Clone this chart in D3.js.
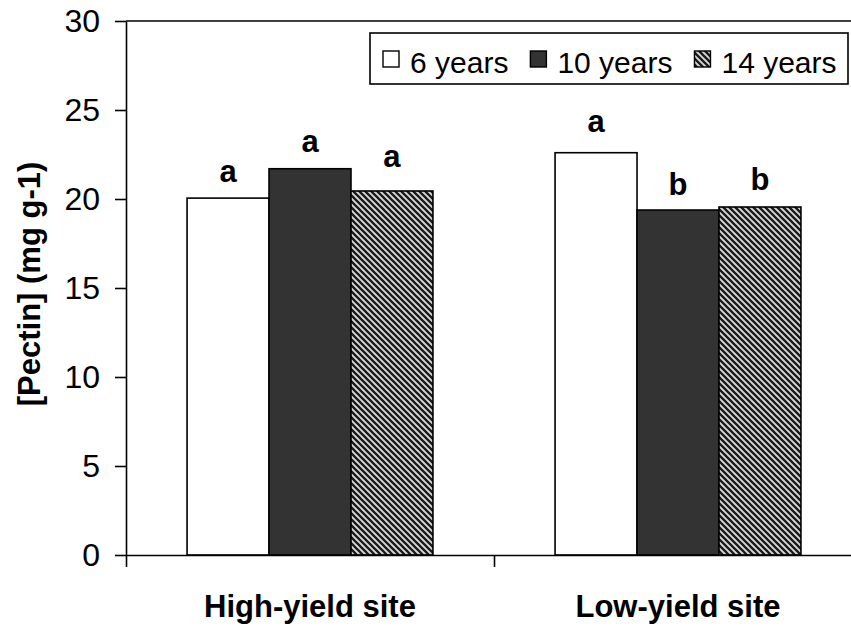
<!DOCTYPE html>
<html>
<head>
<meta charset="utf-8">
<script src="https://cdn.jsdelivr.net/npm/d3@7"></script>
<style>
  html, body { margin: 0; padding: 0; background: #fff; }
  svg { display: block; font-family: Arial, "Liberation Sans", sans-serif; }
</style>
</head>
<body>
<svg id="chart" width="851" height="630"></svg>
<script>
// ---- data ----
const sites = ["High-yield site", "Low-yield site"];
const series = ["6 years", "10 years", "14 years"];
const values6 = [20.05, 22.6];
const values10 = [21.7, 19.38];
const values14 = [20.45, 19.55];
const letters6 = ["a", "a"];
const letters10 = ["a", "b"];
const letters14 = ["a", "b"];
const yTicks = [0, 5, 10, 15, 20, 25, 30];
const yTitle = "[Pectin] (mg g-1)";

const values = [values6, values10, values14];
const letters = [letters6, letters10, letters14];

(function () {
// ---- layout ----
const svg = d3.select("#chart");
const pLeft = 126, pRight = 862, pTop = 21, pBottom = 555;
const fontSize = 30;

const x0 = d3.scaleBand().domain(sites).range([pLeft, pRight]).paddingInner(0).paddingOuter(0);
const x1 = d3.scaleBand().domain(series).range([0, x0.bandwidth()]).paddingInner(0).paddingOuter(0.745);
const y = d3.scaleLinear().domain([0, 30]).range([pBottom, pTop]);

// hatch pattern
const defs = svg.append("defs");
const pat = defs.append("pattern")
  .attr("id", "hatch").attr("patternUnits", "userSpaceOnUse")
  .attr("width", 6).attr("height", 6);
pat.append("rect").attr("width", 6).attr("height", 6).attr("fill", "#d8d8d8");
pat.append("path")
  .attr("d", "M0,0L6,6M-3,3L3,9M3,-3L9,3")
  .attr("stroke", "#1a1a1a").attr("stroke-width", 2.3);

const fills = ["#ffffff", "#333333", "url(#hatch)"];

// bars
series.forEach((s, si) => {
  svg.append("g").selectAll("rect")
    .data(sites.map((site, i) => ({ site, v: values[si][i] })))
    .join("rect")
    .attr("x", d => x0(d.site) + x1(s))
    .attr("y", d => y(d.v))
    .attr("width", x1.bandwidth())
    .attr("height", d => y(0) - y(d.v))
    .attr("fill", fills[si])
    .attr("stroke", "#000")
    .attr("stroke-width", 1.6);
});

// significance letters (lift above the bar top, in data units)
const letterLift = [[0.9, 1.15], [0.95, 0.85], [1.35, 0.95]];
series.forEach((s, si) => {
  svg.append("g").selectAll("text")
    .data(sites.map((site, i) => ({ site, v: values[si][i], l: letters[si][i], lift: letterLift[si][i] })))
    .join("text")
    .attr("x", d => x0(d.site) + x1(s) + x1.bandwidth() / 2)
    .attr("y", d => y(d.v + d.lift))
    .attr("text-anchor", "middle")
    .attr("font-size", 31)
    .attr("font-weight", "bold")
    .text(d => d.l);
});

// y axis
const yAxis = d3.axisLeft(y).tickValues(yTicks).tickSize(11).tickPadding(15).tickSizeOuter(0);
const gy = svg.append("g").attr("transform", `translate(${pLeft},0)`).call(yAxis);
gy.select(".domain").attr("stroke", "#000").attr("stroke-width", 1.6);
gy.selectAll(".tick line").attr("stroke", "#000").attr("stroke-width", 1.6);
gy.selectAll(".tick text").attr("font-size", 32).attr("font-family", "Arial, 'Liberation Sans', sans-serif").attr("fill", "#000");

// x axis
const xTickScale = d3.scaleLinear().domain([0, sites.length]).range([pLeft, pRight]);
const xAxis = d3.axisBottom(xTickScale).tickValues(d3.range(sites.length + 1)).tickSize(12).tickFormat("").tickSizeOuter(0);
const gx = svg.append("g").attr("transform", `translate(0,${pBottom})`).call(xAxis);
gx.select(".domain").attr("stroke", "#000").attr("stroke-width", 1.6);
gx.selectAll(".tick line").attr("stroke", "#000").attr("stroke-width", 1.6);

// category labels
svg.append("g").selectAll("text")
  .data(sites).join("text")
  .attr("x", d => x0(d) + x0.bandwidth() / 2)
  .attr("y", 617)
  .attr("text-anchor", "middle")
  .attr("font-size", 31)
  .attr("font-weight", "bold")
  .text(d => d);

// top border of plot area
svg.append("line")
  .attr("x1", pLeft).attr("x2", pRight)
  .attr("y1", y(30)).attr("y2", y(30))
  .attr("stroke", "#000").attr("stroke-width", 1.6);

// y title
svg.append("text")
  .attr("transform", `translate(40,${(pTop + pBottom) / 2 - 4}) rotate(-90)`)
  .attr("text-anchor", "middle")
  .attr("font-size", 31)
  .attr("font-weight", "bold")
  .text(yTitle);

// legend
const lg = svg.append("g");
lg.append("rect")
  .attr("x", 370).attr("y", 33).attr("width", 478).attr("height", 51)
  .attr("fill", "#fff").attr("stroke", "#000").attr("stroke-width", 1.6);
let lx = 383;
series.forEach((s, si) => {
  lg.append("rect")
    .attr("x", lx).attr("y", 51).attr("width", 16).attr("height", 16)
    .attr("fill", fills[si]).attr("stroke", "#000").attr("stroke-width", 1.4);
  const t = lg.append("text")
    .attr("x", lx + 27).attr("y", 73)
    .attr("font-size", fontSize)
    .text(s);
  lx = lx + 27 + t.node().getComputedTextLength() + 22;
});
})();
</script>
</body>
</html>
